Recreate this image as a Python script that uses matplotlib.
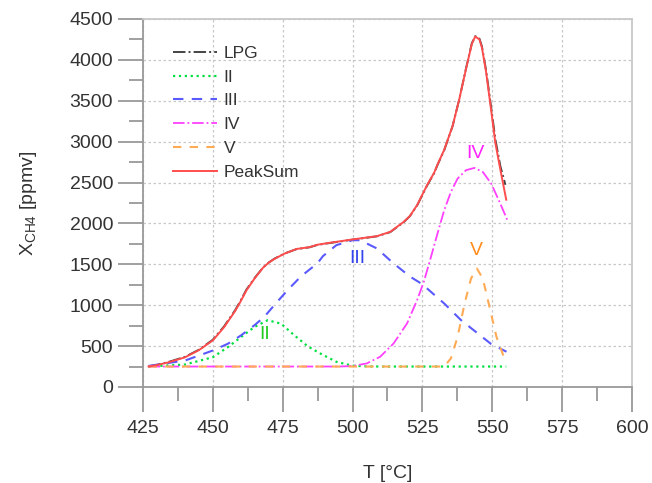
import matplotlib
matplotlib.use("Agg")
import matplotlib.pyplot as plt
from matplotlib.ticker import MultipleLocator

plt.rcParams["font.family"] = ["Liberation Sans", "DejaVu Sans"]

# values
t_sum = [427, 430, 434, 440, 445, 450, 454, 458, 460, 462, 465, 468, 470, 472,
         475.6, 480, 484.6, 487.5, 491.8, 500, 508.7, 513.5, 518.3, 520.5,
         523.1, 526.7, 529.2, 530.4, 532.8, 535.8, 538.2, 540.6, 542.7, 543.9,
         545.4, 546.3, 547.8, 549.4, 551.1, 552.9, 555]
peak_sum = [250, 268, 300, 362, 450, 570, 730, 930, 1050, 1180, 1330, 1460,
            1520, 1565, 1630, 1688, 1710, 1740, 1763, 1804, 1844, 1897, 2019,
            2090, 2223, 2470, 2620, 2720, 2900, 3191, 3519, 3889, 4197, 4285,
            4250, 4150, 3848, 3437, 2985, 2656, 2290]

t_lpg = [427, 430, 434, 440, 445, 450, 454, 458, 460, 462, 465, 468, 470, 472,
         475.6, 480, 484.6, 487.5, 491.8, 500, 508.7, 513.5, 518.3, 520.5,
         523.1, 526.7, 529.2, 530.4, 532.8, 535.8, 538.2, 540.6, 542.7, 543.9,
         545.4, 546.3, 547.8, 549.4, 551.1, 552.9, 554.7]
lpg = [252, 270, 305, 368, 455, 578, 740, 940, 1060, 1190, 1335, 1462, 1522,
       1568, 1632, 1686, 1708, 1738, 1760, 1802, 1842, 1894, 2015, 2088, 2220,
       2465, 2615, 2715, 2895, 3190, 3520, 3895, 4205, 4290, 4260, 4165, 3870,
       3470, 3030, 2700, 2472]

t_ii = [427, 440, 450, 455.4, 460.1, 464.9, 469.6, 474.4, 479.2, 484, 488.7,
        494.2, 500, 505, 510, 520, 530, 540, 555]
peak_ii = [250, 274, 364, 488, 611, 734, 816, 775, 631, 496, 405, 308, 260,
           252, 250, 250, 250, 250, 250]

t_iii = [427, 440, 450, 455.4, 460.1, 464.9, 468.4, 472, 476.8, 481.5, 487.5,
         489.4, 494.2, 500, 502.7, 508.7, 514.7, 520.7, 524.9, 532.8, 538.8,
         544.8, 549.6, 555.1]
peak_iii = [258, 323, 446, 529, 631, 755, 857, 1001, 1186, 1351, 1515, 1600,
            1734, 1795, 1795, 1694, 1510, 1347, 1258, 1021, 818, 655, 525, 431]

t_iv = [427, 495, 500, 505.1, 509.9, 514.7, 519.5, 523.1, 525.5, 527.9, 530.4,
        532.8, 535.2, 537.6, 540.6, 543.6, 546.6, 549.6, 552.6, 555.4]
peak_iv = [250, 250, 256, 288, 370, 533, 777, 1062, 1286, 1571, 1877, 2162,
           2386, 2549, 2651, 2679, 2630, 2488, 2264, 2040]

t_v = [427, 532.8, 535.2, 537.6, 540.1, 542.4, 544.5, 546.6, 549, 551.5,
       553.9, 555.4]
peak_v = [250, 250, 350, 614, 1021, 1327, 1449, 1327, 981, 614, 390, 297]

fig = plt.figure(figsize=(6.52, 4.83), dpi=100)
ax = fig.add_axes([0.2193, 0.1988, 0.75, 0.7619])

ax.plot(t_lpg, lpg, color="#444444", linestyle="-.", linewidth=1.4, label="LPG")
ax.plot(t_ii, peak_ii, color="#00e040", linestyle=":", linewidth=1.6, label="II")
ax.plot(t_iii, peak_iii, color="#5a5aff", linestyle=(0, (5, 4)), linewidth=1.5, label="III")
ax.plot(t_iv, peak_iv, color="#ff40ff", linestyle="-.", linewidth=1.3, label="IV")
ax.plot(t_v, peak_v, color="#ffaa55", linestyle=(0, (4, 4)), linewidth=1.5, label="V")
ax.plot(t_sum, peak_sum, color="#ff4d4d", linestyle="-", linewidth=1.4, label="PeakSum")

ax.text(468.7, 636, "II", color="#22cc22", fontsize=14, ha="center", va="center")
ax.text(501.6, 1577, "III", color="#3344ee", fontsize=14, ha="center", va="center")
ax.text(543.8, 2861, "IV", color="#ff22ff", fontsize=14, ha="center", va="center")
ax.text(544.5, 1675, "V", color="#ff8c1a", fontsize=14, ha="center", va="center")

ax.set_xlim(425, 600)
ax.set_ylim(0, 4500)
ax.xaxis.set_major_locator(MultipleLocator(25))
ax.xaxis.set_minor_locator(MultipleLocator(12.5))
ax.yaxis.set_major_locator(MultipleLocator(500))
ax.yaxis.set_minor_locator(MultipleLocator(250))

ax.grid(True, which="major", color="#c8c8c8", linestyle=(0, (2, 2)), linewidth=0.9)
ax.tick_params(which="major", length=18, width=1.3, color="#999999",
               labelsize=14, labelcolor="#333333", direction="out")
ax.tick_params(axis="x", which="major", pad=6)
ax.tick_params(which="minor", length=10, width=1.3, color="#999999", direction="out")

for side in ["left", "bottom"]:
    ax.spines[side].set_color("#999999")
    ax.spines[side].set_linewidth(1.3)
for side in ["top", "right"]:
    ax.spines[side].set_color("#c8c8c8")
    ax.spines[side].set_linewidth(1.3)

ax.set_xlabel("T [°C]", fontsize=14, color="#333333", labelpad=20)
ax.set_ylabel("X$_{\\mathregular{CH4}}$ [ppmv]", fontsize=14, color="#333333", labelpad=22)

ax.legend(loc="upper left", bbox_to_anchor=(0.03, 0.97), frameon=False,
          fontsize=12.5, handlelength=2.5, labelspacing=0.5, handletextpad=0.4,
          labelcolor="#333333")

fig.savefig("out.png", dpi=100)
